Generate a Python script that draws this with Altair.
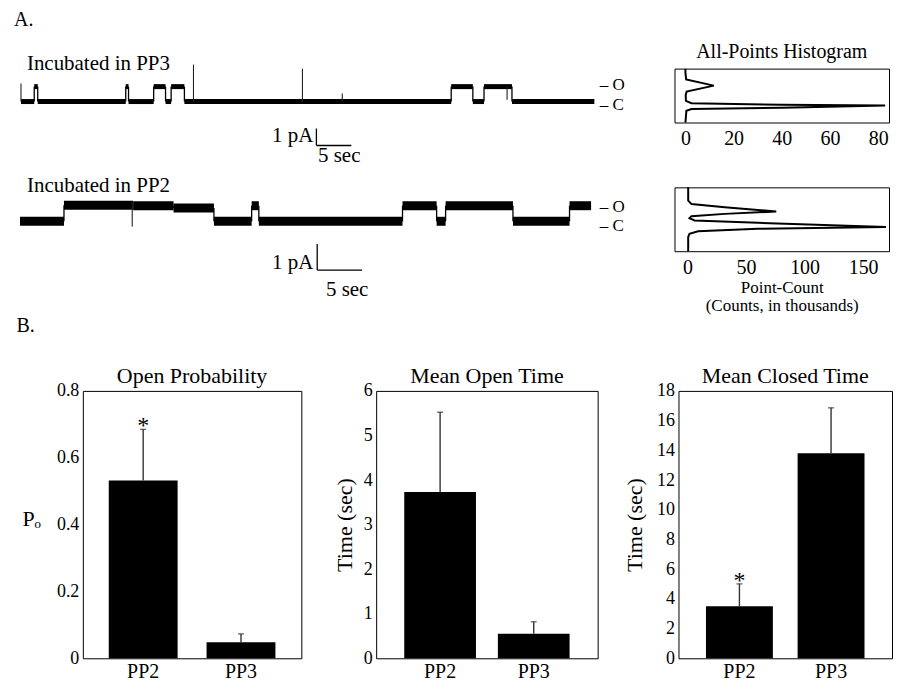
import altair as alt
import pandas as pd

FONT = "Liberation Serif"

# ---------------- Panel A : single-channel recordings ----------------
# transition times (s) and current level (pA) of each dwell
trace1_t = [0, 1.9, 2.4, 15.0, 15.4, 19.0, 20.7, 21.5, 23.4, 61.6, 64.7, 66.3, 70.3, 82.1]
trace1_level = [0, 0.88, 0, 0.88, 0, 0.88, 0, 0.88, 0, 0.88, 0, 0.88, 0]
spike1_t = [0.0, 24.7, 40.3, 46.0, 69.6]
spike1_from = [0, 0, 0, 0, 0.88]
spike1_to = [1.06, 2.18, 1.94, 0.47, 0.10]

trace2_t = [0, 4.9, 12.6, 17.1, 21.6, 25.8, 26.6, 42.6, 46.4, 47.4, 54.9, 61.2, 63.6]
trace2_level = [0, 0.62, 0.60, 0.51, 0, 0.60, 0, 0.60, 0, 0.60, 0, 0.60]
spike2_t = [12.5]
spike2_from = [0.75]
spike2_to = [-0.2]

# scale bars (anchor time s, anchor current pA)
bar1_anchor = [42.3, -2.59]
bar2_anchor = [33.1, -1.88]
bar_len = [5, 1]  # 5 sec, 1 pA

# all-points histograms: current level (pA) vs point count (thousands)
hist1_current = [1.63, 1.45, 1.15, 0.88, 0.62, 0.46, 0.21, 0.10, 0.03, 0.0, -0.10, -0.15, -0.23, -0.749]
hist1_count = [0, 0, 0.3, 11.8, 0.5, 0.1, 0.2, 2.5, 40, 82.9, 40, 2.5, 0.4, 0]
hist2_current = [1.527, 1.336, 1.019, 0.889, 0.763, 0.60, 0.508, 0.42, 0.344, 0.256, 0.164, 0.0,
                 -0.065, -0.164, -0.256, -0.382, -0.927]
hist2_count = [0.6, 0.6, 0.6, 3.4, 31.8, 75.8, 31.8, 3.4, 1.7, 6, 60, 169.5, 60, 9, 1.7, 0.6, 0.6]

# ---------------- Panel B : summary bars ----------------
groups = ["PP2", "PP3"]
po_mean = [0.532, 0.048]
po_err = [0.153, 0.025]
open_mean = [3.73, 0.55]
open_err = [1.79, 0.27]
closed_mean = [3.50, 13.8]
closed_err = [1.51, 3.06]
po_star = ["*", ""]
open_star = ["", ""]
closed_star = ["*", ""]


def trace_layer(ts, levels, sp_t, sp_from, sp_to, anchor, xdom, ydom, band, texts):
    sx = alt.Scale(domain=xdom, nice=False, zero=False)
    sy = alt.Scale(domain=ydom, nice=False, zero=False)
    seg = pd.DataFrame({"t0": ts[:-1], "t1": ts[1:], "i": levels})
    trans = pd.DataFrame({"t": ts[1:-1], "a": levels[:-1], "b": levels[1:]})
    spk = pd.DataFrame({"t": sp_t, "a": sp_from, "b": sp_to})
    sb = pd.DataFrame({
        "x": [anchor[0], anchor[0]], "x2": [anchor[0], anchor[0] + bar_len[0]],
        "y": [anchor[1], anchor[1]], "y2": [anchor[1] + bar_len[1], anchor[1]],
    })
    segs = alt.Chart(seg).mark_rule(color="black", strokeWidth=band).encode(
        x=alt.X("t0:Q", scale=sx, axis=None), x2="t1:Q",
        y=alt.Y("i:Q", scale=sy, axis=None))
    tr = alt.Chart(trans).mark_rule(color="black", strokeWidth=1.3).encode(
        x=alt.X("t:Q", scale=sx, axis=None),
        y=alt.Y("a:Q", scale=sy, axis=None), y2="b:Q")
    sp = alt.Chart(spk).mark_rule(color="#222", strokeWidth=1.1).encode(
        x=alt.X("t:Q", scale=sx, axis=None),
        y=alt.Y("a:Q", scale=sy, axis=None), y2="b:Q")
    scb = alt.Chart(sb).mark_rule(color="black", strokeWidth=1.3).encode(
        x=alt.X("x:Q", scale=sx, axis=None), x2="x2:Q",
        y=alt.Y("y:Q", scale=sy, axis=None), y2="y2:Q")
    layers = [segs, tr, sp, scb]
    for align in ["left", "right", "center"]:
        sub = [r for r in texts if r[3] == align]
        if not sub:
            continue
        df = pd.DataFrame({"t": [r[0] for r in sub], "i": [r[1] for r in sub],
                           "label": [r[2] for r in sub], "fs": [r[4] for r in sub]})
        layers.append(alt.Chart(df).mark_text(align=align, baseline="middle",
                                              font=FONT, color="black").encode(
            x=alt.X("t:Q", scale=sx, axis=None), y=alt.Y("i:Q", scale=sy, axis=None),
            text="label:N", size=alt.Size("fs:Q", scale=None, legend=None)))
    return alt.layer(*layers)


texts1 = [
    (-1.0, 4.824, "A.", "left", 20),
    (0.85, 2.235, "Incubated in PP3", "left", 21),
    (82.86, 1.0, "\u2013 O", "left", 17),
    (82.86, -0.176, "\u2013 C", "left", 17),
    (41.86, -2.06, "1 pA", "right", 21),
    (45.57, -3.24, "5 sec", "center", 21),
]
texts2 = [
    (0.78, 1.346, "Incubated in PP2", "left", 21),
    (64.56, 0.558, "\u2013 O", "left", 17),
    (64.56, -0.173, "\u2013 C", "left", 17),
    (32.67, -1.615, "1 pA", "right", 21),
    (36.44, -2.654, "5 sec", "center", 21),
]

L1 = trace_layer(trace1_t, trace1_level, spike1_t, spike1_from, spike1_to, bar1_anchor,
                 [8.857, 91.857], [-11.765, 1.941], 5, texts1)
L2 = trace_layer(trace2_t, trace2_level, spike2_t, spike2_from, spike2_to, bar2_anchor,
                 [7.0, 71.556], [-3.077, 5.885], 9, texts2)
traces = alt.layer(L1, L2).resolve_scale(x="independent", y="independent").properties(
    width=581, height=233, view=alt.ViewBackground(stroke="transparent"))


def hist_chart(cur, cnt, xdom, ydom, ticks, w, h, xtitle=None, title=None):
    df = pd.DataFrame({"current": cur, "count": cnt, "k": list(range(len(cur)))})
    ax = dict(values=ticks, ticks=False, domain=False, grid=False, labelFontSize=20,
              labelPadding=6, labelFlush=False)
    if xtitle is not None:
        ax.update(title=xtitle, titleFontSize=17, titleFontWeight="normal",
                  titleLineHeight=18, titleY=28, titleBaseline="top")
    else:
        ax.update(title=None)
    ch = alt.Chart(df).mark_line(color="black", strokeWidth=2).encode(
        x=alt.X("count:Q", scale=alt.Scale(domain=xdom, nice=False, zero=False),
                axis=alt.Axis(**ax)),
        y=alt.Y("current:Q", scale=alt.Scale(domain=ydom, nice=False, zero=False), axis=None),
        order="k:Q")
    props = dict(width=w, height=h)
    if title is not None:
        props["title"] = alt.Title(title, fontSize=20, offset=3)
    return ch.properties(**props)


hist1 = hist_chart(hist1_current, hist1_count, [-4.54, 84.5], [-0.749, 1.63],
                   [0, 20, 40, 60, 80], 215, 54, title="All-Points Histogram")
hist2 = hist_chart(hist2_current, hist2_count, [-11.1, 172.1], [-0.927, 1.527],
                   [0, 50, 100, 150], 215, 64,
                   xtitle=["Point-Count", "(Counts, in thousands)"])
hists = alt.vconcat(hist1, hist2, spacing=33)

top = alt.hconcat(traces, hists, spacing=10)


def bar_chart(title, means, errs, stars, ydom, yvals, ytitle, w, p_in, p_out, tpad,
              horizontal_title=False):
    df = pd.DataFrame({"grp": groups, "m": means, "top": [a + b for a, b in zip(means, errs)],
                       "star": stars})
    xaxis = alt.Axis(title=None, labelAngle=0, ticks=False, domain=False,
                     labelFontSize=20, labelPadding=3)
    xscale = alt.Scale(paddingInner=p_in, paddingOuter=p_out)
    yax = dict(values=yvals, format="~g", ticks=False, domain=False, grid=False,
               labelFontSize=18, labelPadding=4, labelOverlap=False,
               title=ytitle, titleFontSize=22, titleFontWeight="normal", titlePadding=tpad)
    if horizontal_title:
        yax.update(titleAngle=0, titleAlign="right", titleBaseline="middle", titleY=128)
    yaxis = alt.Axis(**yax)
    sy = alt.Scale(domain=ydom, nice=False, zero=True)
    X = alt.X("grp:N", scale=xscale, axis=xaxis)
    bars = alt.Chart(df).mark_bar(color="black").encode(
        x=X, y=alt.Y("m:Q", scale=sy, axis=yaxis))
    err = alt.Chart(df).mark_rule(color="#333", strokeWidth=1.4).encode(
        x=X, y=alt.Y("m:Q", scale=sy, axis=yaxis), y2="top:Q")
    cap = alt.Chart(df).mark_tick(color="#333", thickness=1.4, size=6).encode(
        x=X, y=alt.Y("top:Q", scale=sy, axis=yaxis))
    st = alt.Chart(df).mark_text(fontSize=24, baseline="bottom", dy=9, font=FONT,
                                 color="black").encode(
        x=X, y=alt.Y("top:Q", scale=sy, axis=yaxis), text="star:N")
    return alt.layer(bars, err, cap, st).properties(
        width=w, height=268, title=alt.Title(title, fontSize=22, offset=0, dy=6))


b1 = bar_chart("Open Probability", po_mean, po_err, po_star, [0, 0.8],
               [0, 0.2, 0.4, 0.6, 0.8], "P\u2092", 219, 0.296, 0.265, 16,
               horizontal_title=True)
b2 = bar_chart("Mean Open Time", open_mean, open_err, open_star, [0, 6],
               [0, 1, 2, 3, 4, 5, 6], "Time (sec)", 222, 0.234, 0.3, 7)
b3 = bar_chart("Mean Closed Time", closed_mean, closed_err, closed_star, [0, 18],
               [0, 2, 4, 6, 8, 10, 12, 14, 16, 18], "Time (sec)", 214, 0.27, 0.3, 10)

bottom = alt.hconcat(alt.hconcat(b1, b2, spacing=30), b3, spacing=24).properties(
    title=alt.Title("B.", anchor="start", fontSize=20, offset=29, dx=-5))

chart = alt.vconcat(top, bottom, spacing=1).properties(
    padding={"left": 5, "top": 0, "right": 0, "bottom": 0}
).configure_view(stroke="black", strokeWidth=1).configure_title(
    font=FONT, fontWeight="normal", color="black"
).configure_axis(
    labelFont=FONT, titleFont=FONT, labelColor="black", titleColor="black",
    labelOverlap=False
).configure_text(font=FONT)

chart.save("out.html", embed_options={"renderer": "svg", "actions": False})
